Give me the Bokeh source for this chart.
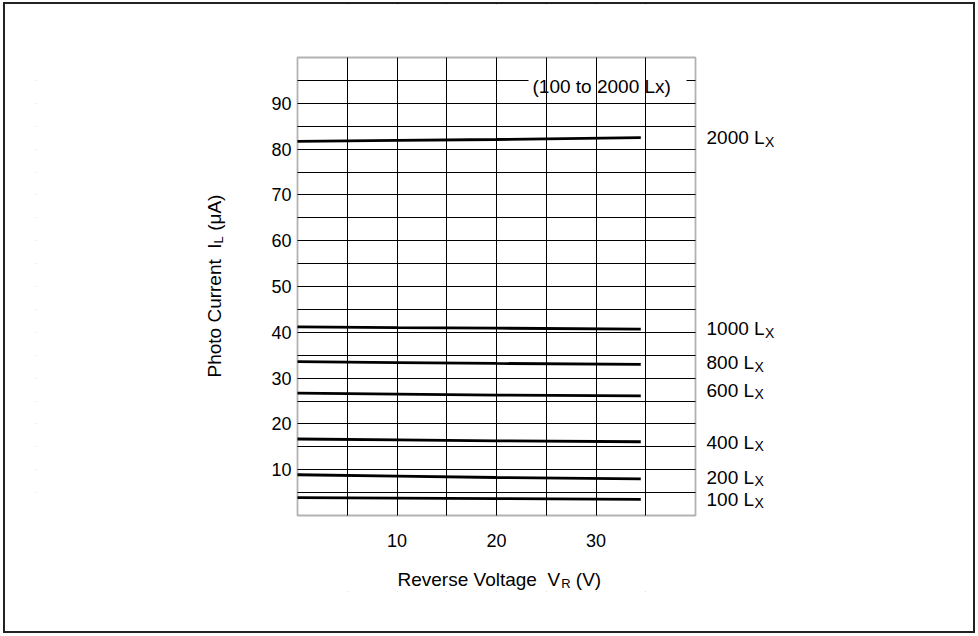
import math
from bokeh.plotting import figure
from bokeh.layouts import column
from bokeh.models import FixedTicker, Label, Range1d, BoxAnnotation
from bokeh.embed import file_html
from bokeh.resources import INLINE

# ---------------- data ----------------
voltage = [0, 10, 20, 34.5]                     # Reverse voltage V_R (V)
lux_names = ["2000", "1000", "800", "600", "400", "200", "100"]
current_2000 = [81.7, 81.9, 82.1, 82.5]
current_1000 = [41.2, 41.0, 40.9, 40.7]
current_800 = [33.6, 33.4, 33.2, 33.0]
current_600 = [26.7, 26.5, 26.3, 26.1]
current_400 = [16.7, 16.5, 16.3, 16.1]
current_200 = [8.9, 8.6, 8.3, 8.0]
current_100 = [3.9, 3.8, 3.7, 3.5]
series = [current_2000, current_1000, current_800, current_600,
          current_400, current_200, current_100]
label_y = [82.5, 40.8, 33.4, 27.3, 16.0, 8.4, 3.5]   # where each curve name sits
x_ticks = [10, 20, 30]
y_ticks = [10, 20, 30, 40, 50, 60, 70, 80, 90]
grid_x = [5, 10, 15, 20, 25, 30, 35]
grid_y = [5, 10, 15, 20, 25, 30, 35, 40, 45, 50, 55, 60, 65, 70, 75, 80, 85, 90, 95]
x_lim = (0, 40)
y_lim = (0, 100)
range_note = "(100 to 2000 Lx)"

# ---------------- layout ----------------
FONT = "Liberation Sans"
NB = "\u00a0"
OX, OY = 5, 4                      # page position of the figure canvas
W, H = 968, 627
BL, BT, BR, BB = 30, 0, 0, 40
# page pixels of the chart box
GX0, GX1, GY0, GY1 = 297, 695, 57, 515
PX = (GX1 - GX0) / (x_lim[1] - x_lim[0])
PY = (GY1 - GY0) / (y_lim[1] - y_lim[0])
x_start = x_lim[0] - (GX0 - (OX + BL)) / PX
x_end = x_lim[1] + ((OX + W - BR) - GX1) / PX
y_end = y_lim[1] + (GY0 - (OY + BT)) / PY
y_start = y_lim[0] - ((OY + H - BB) - GY1) / PY


def dx(px):
    return x_lim[0] + (px - GX0) / PX


def dy(py):
    return y_lim[0] + (GY1 - py) / PY


ARIAL = {' ': 278, NB: 278, '(': 333, ')': 333, 'L': 556, 'X': 667, 'x': 500,
         't': 278, 'o': 556, 'R': 722, 'e': 556, 'v': 500, 'r': 333, 's': 500,
         'V': 667, 'l': 222, 'a': 556, 'g': 556, 'P': 667, 'h': 556, 'C': 722,
         'u': 556, 'n': 556, 'I': 278, 'μ': 576, 'A': 667}
for d in "0123456789":
    ARIAL[d] = 556


def tw(s, size):
    return sum(ARIAL.get(c, 556) for c in s) * size / 1000.0


p = figure(width=W, height=H, x_range=Range1d(x_start, x_end),
           y_range=Range1d(y_start, y_end), title=None,
           output_backend="svg", toolbar_location=None,
           min_border_left=BL, min_border_right=BR, min_border_top=BT,
           min_border_bottom=BB)
p.background_fill_color = "white"
p.border_fill_color = "white"
p.outline_line_color = None

for ax in (p.xaxis[0], p.yaxis[0]):
    ax.axis_line_color = None
    ax.axis_line_alpha = 0
    ax.major_tick_line_color = None
    ax.major_tick_line_alpha = 0
    ax.minor_tick_line_color = None
    ax.minor_tick_line_alpha = 0
    ax.major_tick_out = 0
    ax.major_tick_in = 0
    ax.minor_tick_out = 0
    ax.minor_tick_in = 0
    ax.major_label_text_font = FONT
    ax.major_label_text_font_size = "18px"
    ax.major_label_text_color = "black"
    ax.fixed_location = 0
p.xaxis.ticker = FixedTicker(ticks=x_ticks, minor_ticks=[])
p.yaxis.ticker = FixedTicker(ticks=y_ticks, minor_ticks=[])
p.xaxis.major_label_standoff = 18
p.yaxis.major_label_standoff = 6

p.xgrid.ticker = FixedTicker(ticks=grid_x)
p.ygrid.ticker = FixedTicker(ticks=grid_y)
for g in (p.xgrid[0], p.ygrid[0]):
    g.grid_line_color = "black"
    g.grid_line_alpha = 1.0
    g.grid_line_width = 1

xg, yg = p.xgrid[0], p.ygrid[0]
# white patch behind the note: hides the horizontal grid line only
note_box = BoxAnnotation(left=dx(528), right=dx(686), bottom=dy(93), top=dy(70),
                         fill_color="white", fill_alpha=1.0, line_color=None,
                         level="underlay")
# white masks so the grid stays inside the chart box
mask_kw = dict(fill_color="white", fill_alpha=1.0, line_color=None, level="underlay")
ex0, ex1, ey0, ey1 = x_start - 5, x_end + 5, y_start - 5, y_end + 5
masks = [BoxAnnotation(left=ex0, right=x_lim[0], bottom=ey0, top=ey1, **mask_kw),
         BoxAnnotation(left=x_lim[1], right=ex1, bottom=ey0, top=ey1, **mask_kw),
         BoxAnnotation(left=ex0, right=ex1, bottom=ey0, top=y_lim[0], **mask_kw),
         BoxAnnotation(left=ex0, right=ex1, bottom=y_lim[1], top=ey1, **mask_kw)]
chart_box = BoxAnnotation(left=x_lim[0], right=x_lim[1], bottom=y_lim[0], top=y_lim[1],
                          fill_alpha=0.0, line_color="black", line_width=1.8,
                          level="annotation")
others = [r for r in p.center if r not in (xg, yg)]
p.center = [yg, note_box, xg] + masks + [chart_box] + others

for vals in series:
    p.line(voltage, vals, line_color="black", line_width=2.8)


def lab(text, px, py, size, align="left", angle=0.0):
    p.add_layout(Label(x=dx(px), y=dy(py), text=text, text_font=FONT,
                       text_font_size=f"{size}px", text_color="black",
                       text_align=align, text_baseline="middle", angle=angle))


# curve names on the right: "NNNN L" + small lowered "X"
for name, ly in zip(lux_names, label_y):
    py = GY1 - (ly - y_lim[0]) * PY
    main = f"{name} L"
    lab(main, 706, py, 19)
    lab("X", 706 + tw(main, 19) + 0.5, py + 4, 14)

# range note
lab(range_note, 532, 86, 19)

# x-axis title
xt1 = f"Reverse Voltage{NB}{NB}V"
xt2 = f"{NB}(V)"
x0, xc = 397, 579
lab(xt1, x0, xc, 19)
lab("R", x0 + tw(xt1, 19), xc + 4, 13)
lab(xt2, x0 + tw(xt1, 19) + tw("R", 13), xc, 19)

# y-axis title (rotated)
yt1 = f"Photo Current{NB}{NB}I"
yt2 = f"{NB}(μA)"
yc, y0 = 214, 377
lab(yt1, yc, y0, 19, angle=math.pi / 2)
lab("L", yc + 4, y0 - tw(yt1, 19), 13, angle=math.pi / 2)
lab(yt2, yc, y0 - tw(yt1, 19) - tw("L", 13), 19, angle=math.pi / 2)

page = column(p, styles={"border": "2px solid #222", "margin-left": "3px",
                         "margin-top": "2px"})
open("out.html", "w").write(file_html(page, INLINE))
